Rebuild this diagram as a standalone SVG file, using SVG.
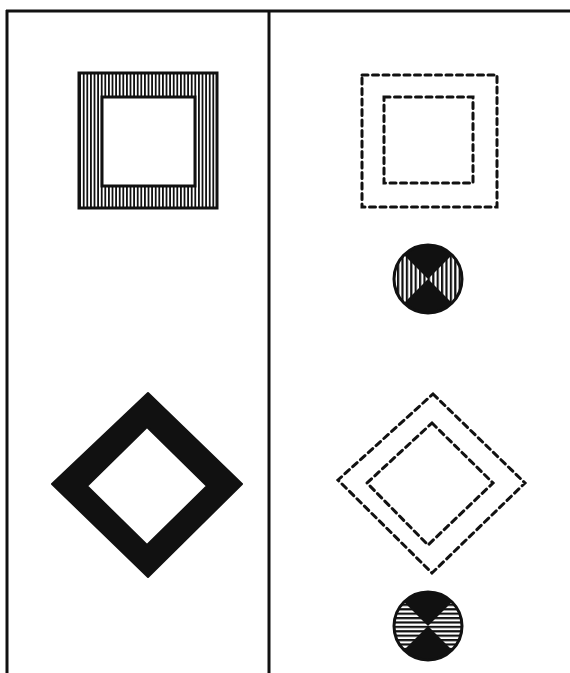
<svg xmlns="http://www.w3.org/2000/svg" width="570" height="673" viewBox="0 0 570 673">
<defs>
  <pattern id="vstripe" patternUnits="userSpaceOnUse" width="3.6" height="10">
    <rect x="0" y="0" width="1.8" height="10" fill="#111"/>
  </pattern>
  <pattern id="vstripe2" patternUnits="userSpaceOnUse" width="4.4" height="10" x="1">
    <rect x="0" y="0" width="2.2" height="10" fill="#111"/>
  </pattern>
  <pattern id="hstripe2" patternUnits="userSpaceOnUse" width="10" height="4.4" y="1">
    <rect x="0" y="0" width="10" height="2.2" fill="#111"/>
  </pattern>
  <clipPath id="c1"><circle cx="428" cy="279" r="34"/></clipPath>
  <clipPath id="c2"><circle cx="428" cy="626" r="34"/></clipPath>
</defs>
<style>
  .frame{stroke:#111;stroke-width:3;fill:none}
  .solid{stroke:#111;stroke-width:3;fill:none}
  .dash{stroke:#111;stroke-width:3;fill:none;stroke-dasharray:6 4.5;stroke-linecap:round}
  .ink{fill:#111}
</style>
<rect width="570" height="673" fill="#fff"/>
<g id="frame">
  <line class="frame" x1="6" y1="11" x2="570" y2="11"/>
  <line class="frame" x1="7" y1="10" x2="7" y2="673"/>
  <line class="frame" x1="269" y1="11" x2="269" y2="673"/>
</g>
<g id="hatched-square">
  <path d="M79,73 H217 V208 H79 Z M102,97 V186 H195 V97 Z" fill="url(#vstripe)" fill-rule="evenodd"/>
  <rect class="solid" x="79" y="73" width="138" height="135"/>
  <rect class="solid" x="102" y="97" width="93" height="89"/>
</g>
<g id="dashed-squares">
  <rect class="dash" x="362" y="75" width="135" height="132"/>
  <rect class="dash" x="384" y="97" width="89" height="86"/>
</g>
<g id="circle-vertical">
  <g clip-path="url(#c1)">
    <rect x="394" y="245" width="68" height="68" fill="#fff"/>
    <rect x="394" y="245" width="68" height="68" fill="url(#vstripe2)"/>
    <polygon class="ink" points="390,241 466,241 428,279"/>
    <polygon class="ink" points="390,317 466,317 428,279"/>
  </g>
  <circle cx="428" cy="279" r="34" fill="none" stroke="#111" stroke-width="3"/>
</g>
<g id="black-diamond">
  <path d="M148,393 L242,484 L148,577 L52,484 Z M147,427 L87,486 L147,545 L207,486 Z" class="ink" fill-rule="evenodd" stroke="#111" stroke-width="2" stroke-linejoin="round"/>
</g>
<g id="dashed-diamonds">
  <polygon class="dash" points="433,394 525,483 432,573 338,480"/>
  <polygon class="dash" points="432,423 493,483 428,545 367,483"/>
</g>
<g id="circle-horizontal">
  <g clip-path="url(#c2)">
    <rect x="394" y="592" width="68" height="68" fill="#fff"/>
    <rect x="394" y="592" width="68" height="68" fill="url(#hstripe2)"/>
    <polygon class="ink" points="390,588 466,588 428,626"/>
    <polygon class="ink" points="390,664 466,664 428,626"/>
  </g>
  <circle cx="428" cy="626" r="34" fill="none" stroke="#111" stroke-width="3"/>
</g>
</svg>
